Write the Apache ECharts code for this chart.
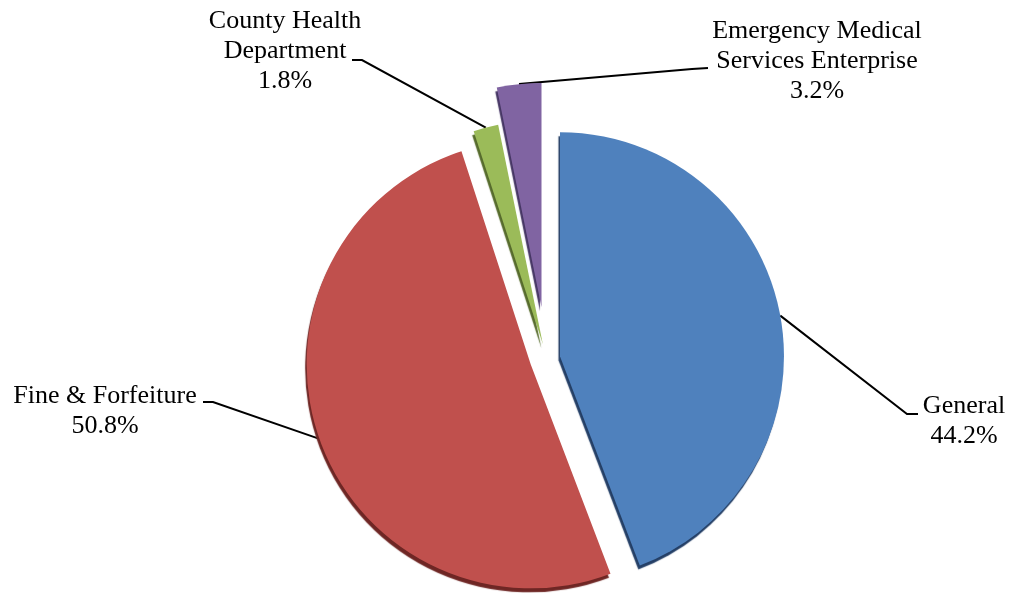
<!DOCTYPE html>
<html>
<head>
<meta charset="utf-8">
<script src="https://cdn.jsdelivr.net/npm/echarts@6/dist/echarts.min.js"></script>
<style>
  html, body { margin: 0; padding: 0; background: #ffffff; }
  #chart { width: 1012px; height: 593px; }
</style>
</head>
<body>
<div id="chart"></div>
<script>
// Fund shares, in percent, drawn clockwise from 12 o'clock
const categories = ['General', 'Fine & Forfeiture', 'County Health\nDepartment', 'Emergency Medical\nServices Enterprise'];
const shares = [44.2, 50.8, 1.8, 3.2];
const colors = ['#4f81bd', '#c0504d', '#9bbb59', '#8064a2'];
const sideColors = ['#243f66', '#6e2624', '#566b2c', '#463664'];

// How far each slice is pulled out from the pie centre (px)
const explode = [13.5, 17, 15, 52];

// Label block centres and the bend / end of each leader line
const labelPos = [
  { x: 964, y: 421, bend: [907, 414], end: [918, 414] },
  { x: 105, y: 411, bend: [213, 402], end: [203, 402] },
  { x: 285, y: 51,  bend: [362, 60],  end: [352, 60] },
  { x: 817, y: 61,  bend: [692, 69],  end: [708, 68] }
];

const CX = 546.7, CY = 358.7, R = 224;

const chart = echarts.init(document.getElementById('chart'), null, { renderer: 'canvas' });

const total = shares.reduce((a, b) => a + b, 0);
let acc = 0;
const centers = shares.map((v, i) => {
  const mid = (acc + v / 2) / total * 2 * Math.PI;
  acc += v;
  return [CX + explode[i] * Math.sin(mid), CY - explode[i] * Math.cos(mid)];
});

function layoutLabel(params) {
  const p = labelPos[params.dataIndex];
  const out = { x: p.x, y: p.y, align: 'center', verticalAlign: 'middle' };
  if (params.labelLinePoints && params.labelLinePoints.length) {
    out.labelLinePoints = [params.labelLinePoints[0], p.bend, p.end];
  }
  return out;
}

// One pie per slice so every slice can sit at its own explosion distance
const series = categories.map((_, k) => ({
  type: 'pie',
  radius: [0, R],
  center: centers[k],
  startAngle: 90,
  clockwise: true,
  avoidLabelOverlap: false,
  silent: true,
  animation: false,
  emphasis: { disabled: true },
  z: 2 + k,
  label: {
    position: 'outside',
    alignTo: 'none',
    color: '#000',
    fontFamily: '"Liberation Serif", "Times New Roman", serif',
    fontSize: 26,
    lineHeight: 30,
    formatter: (p) => p.name + '\n' + p.value.toFixed(1) + '%'
  },
  labelLine: {
    show: true,
    length: 20,
    length2: 10,
    lineStyle: { color: '#000', width: 2 }
  },
  labelLayout: layoutLabel,
  data: categories.map((name, i) => {
    if (i !== k) {
      return {
        name: name, value: shares[i],
        itemStyle: { color: 'rgba(0,0,0,0)', borderWidth: 0 },
        label: { show: false }, labelLine: { show: false }
      };
    }
    return {
      name: name, value: shares[i],
      itemStyle: {
        color: colors[i],
        borderWidth: 0,
        shadowColor: sideColors[i],
        shadowBlur: 1,
        shadowOffsetX: -1.5,
        shadowOffsetY: 4
      },
      label: { show: true },
      labelLine: { show: true }
    };
  })
}));

chart.setOption({
  backgroundColor: '#ffffff',
  animation: false,
  series: series
});
</script>
</body>
</html>
